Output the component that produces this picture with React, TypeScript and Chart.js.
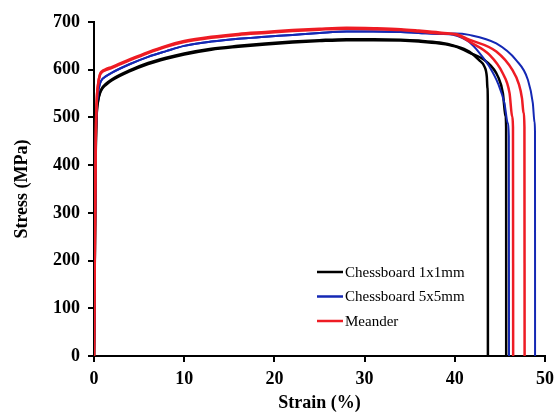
import React, { useEffect, useRef } from 'react';
import { Chart, registerables } from 'chart.js';

Chart.register(...registerables);

const seriesLabels = ['Chessboard 1x1mm', 'Chessboard 5x5mm', 'Meander'];
const seriesColors = ['#000000', '#1428b4', '#ee1c24'];

// shared loading part (strain %, stress MPa)
const strainBody = [0, 0.1, 0.2, 0.3, 0.45, 0.65, 0.9, 1.3, 2, 4, 6, 8, 10, 13, 16, 19, 22, 25, 28, 31, 34, 36, 38.3];
const stressBlack = [0, 230, 440, 508, 536, 552, 562, 570, 580, 599, 614, 625, 634, 644, 650, 655, 659, 662, 664, 664, 663, 661, 657];
const stressBlue = [0, 235, 450, 520, 552, 570, 580, 586, 594, 612, 627, 639, 650, 659, 665, 669, 673, 677, 680, 680, 679, 677, 675];
const stressRed = [0, 240, 460, 535, 570, 590, 597, 601, 606, 622, 637, 650, 660, 669, 675, 679, 683, 686, 688, 687, 685, 682, 678];

// necking / fracture tails of each specimen
const black1TailStrain = [40.0, 41.6, 42.7, 43.3, 43.55, 43.62, 43.66, 43.67];
const black1TailStress = [650, 638, 620, 606, 585, 562, 535, 0];
const black2TailStrain = [40.0, 41.6, 43.5, 44.8, 45.33, 45.63, 45.69, 45.7];
const black2TailStress = [649, 636, 617, 585, 551, 502, 480, 0];
const blue1TailStrain = [39.8, 40.8, 41.6, 42.7, 43.85, 44.8, 45.5, 45.88, 45.99, 46.01];
const blue1TailStress = [673, 667, 658, 636, 606, 571, 530, 488, 460, 0];
const blue2TailStrain = [40.0, 41.6, 44.6, 46.8, 48.1, 48.65, 48.84, 48.89, 48.9];
const blue2TailStress = [676, 673, 655, 620, 579, 530, 490, 470, 0];
const red1TailStrain = [40.0, 40.9, 41.6, 43.85, 45.3, 46.07, 46.36, 46.45, 46.47];
const red1TailStress = [674, 667, 659, 631, 593, 551, 502, 480, 0];
const red2TailStrain = [40.0, 41.6, 44.6, 46.4, 47.1, 47.45, 47.62, 47.72, 47.74];
const red2TailStress = [675, 663, 638, 599, 570, 540, 510, 480, 0];

const xTicks = [0, 10, 20, 30, 40, 50];
const yTicks = [0, 100, 200, 300, 400, 500, 600, 700];

const FONT = "'Times New Roman', 'Liberation Serif', serif";

function makePoints(bodyStress: number[], tailX: number[], tailY: number[]) {
  const pts: { x: number; y: number }[] = [];
  strainBody.forEach((s, i) => pts.push({ x: s, y: bodyStress[i] }));
  tailX.forEach((s, i) => pts.push({ x: s, y: tailY[i] }));
  return pts;
}

const legendPlugin = {
  id: 'inlineLegend',
  afterDraw(chart: any) {
    const ctx = chart.ctx;
    const { left } = chart.chartArea;
    ctx.save();
    ctx.font = `15px ${FONT}`;
    ctx.textBaseline = 'middle';
    ctx.textAlign = 'left';
    seriesLabels.forEach((label, i) => {
      const y = 272 + i * 24.5;
      const x0 = left + 223;
      ctx.strokeStyle = seriesColors[i];
      ctx.lineWidth = 2.5;
      ctx.beginPath();
      ctx.moveTo(x0, y);
      ctx.lineTo(x0 + 26, y);
      ctx.stroke();
      ctx.fillStyle = '#000';
      ctx.fillText(label, x0 + 28, y + 1);
    });
    ctx.restore();
  },
};

export default function App() {
  const ref = useRef<HTMLCanvasElement | null>(null);
  useEffect(() => {
    if (!ref.current) return;
    const mk = (label: string, color: string, data: any, order: number, width: number) => ({
      label,
      data,
      borderColor: color,
      backgroundColor: color,
      borderWidth: width,
      pointRadius: 0,
      fill: false,
      cubicInterpolationMode: 'monotone' as const,
      order,
    });
    const chart = new Chart(ref.current, {
      type: 'line',
      data: {
        datasets: [
          mk(seriesLabels[0], seriesColors[0], makePoints(stressBlack, black1TailStrain, black1TailStress), 2, 2.5),
          mk(seriesLabels[0], seriesColors[0], makePoints(stressBlack.map((v) => v - 2), black2TailStrain, black2TailStress), 2, 2.5),
          mk(seriesLabels[1], seriesColors[1], makePoints(stressBlue, blue1TailStrain, blue1TailStress), 1, 2),
          mk(seriesLabels[1], seriesColors[1], makePoints(stressBlue, blue2TailStrain, blue2TailStress), 1, 2),
          mk(seriesLabels[2], seriesColors[2], makePoints(stressRed, red1TailStrain, red1TailStress), 0, 2.5),
          mk(seriesLabels[2], seriesColors[2], makePoints(stressRed.map((v) => v - 2), red2TailStrain, red2TailStress), 0, 2.5),
        ],
      },
      options: {
        animation: false,
        responsive: false,
        maintainAspectRatio: false,
        layout: { padding: { top: 22, right: 11, left: 0, bottom: 0 } },
        plugins: { legend: { display: false }, tooltip: { enabled: false } },
        scales: {
          x: {
            type: 'linear',
            min: 0,
            max: 50,
            afterBuildTicks: (s: any) => { s.ticks = xTicks.map((v) => ({ value: v })); },
            afterFit: (s: any) => { s.height = 58; s.paddingLeft = 0; s.paddingRight = 0; },
            ticks: { color: '#000', font: { family: FONT, size: 18, weight: 'bold' }, padding: 7, maxRotation: 0 },
            grid: { drawOnChartArea: false, drawTicks: true, tickLength: 6, color: '#000', lineWidth: 2 },
            border: { color: '#000', width: 2 },
            title: { display: true, text: 'Strain (%)', color: '#000', font: { family: FONT, size: 18, weight: 'bold' }, padding: { top: 0, bottom: 0 } },
          },
          y: {
            type: 'linear',
            min: 0,
            max: 700,
            afterBuildTicks: (s: any) => { s.ticks = yTicks.map((v) => ({ value: v })); },
            afterFit: (s: any) => { s.width = 94; s.paddingTop = 0; s.paddingBottom = 0; },
            ticks: { color: '#000', font: { family: FONT, size: 18, weight: 'bold' }, padding: 8 },
            grid: { drawOnChartArea: false, drawTicks: true, tickLength: 6, color: '#000', lineWidth: 2 },
            border: { color: '#000', width: 2 },
            title: { display: true, text: 'Stress (MPa)', color: '#000', font: { family: FONT, size: 18, weight: 'bold' }, padding: { top: 12, bottom: 0 } },
          },
        },
      },
      plugins: [legendPlugin],
    });
    return () => chart.destroy();
  }, []);
  return (
    <div style={{ position: 'fixed', left: 0, top: 0, width: 556, height: 414, background: '#fff' }}>
      <canvas ref={ref} width={556} height={414} style={{ width: 556, height: 414, display: 'block' }} />
    </div>
  );
}
